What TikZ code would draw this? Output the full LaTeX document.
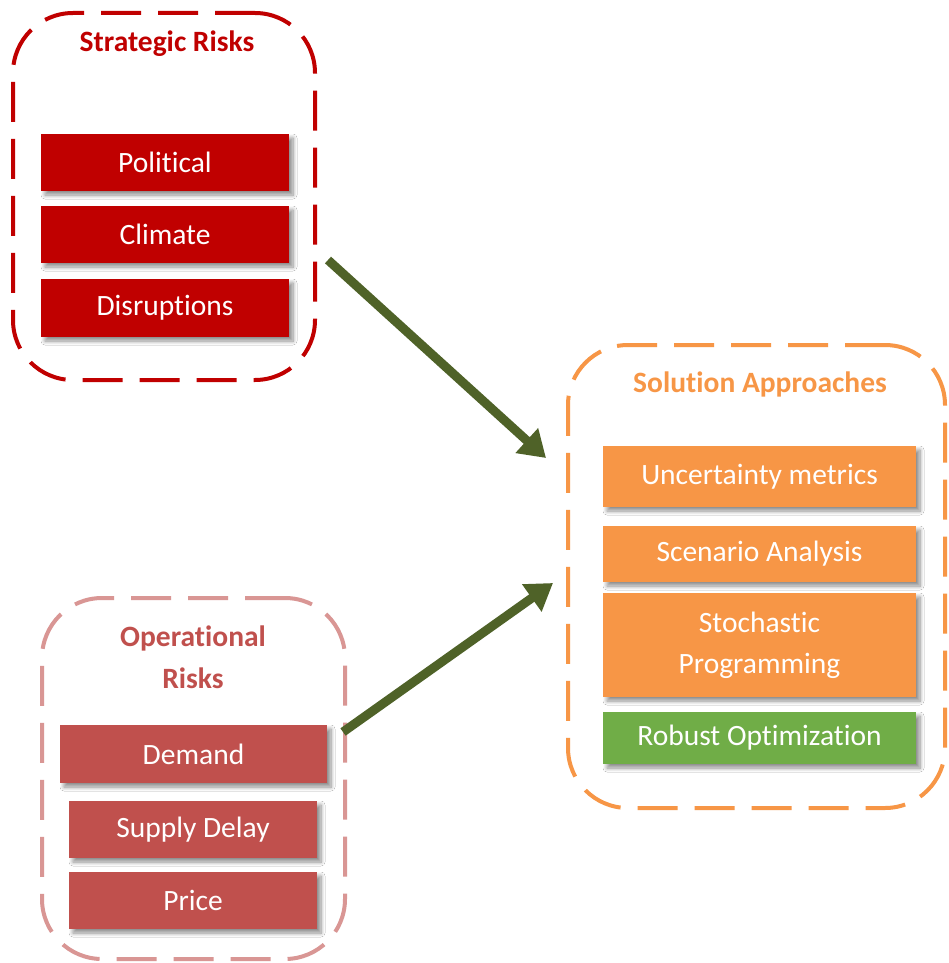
\documentclass[tikz,border=0pt]{standalone}
\usepackage{fontspec}
\setmainfont{Carlito}[Ligatures=NoCommon]
\usetikzlibrary{arrows.meta,shadows.blur}
\definecolor{strat}{HTML}{C00000}
\definecolor{oper}{HTML}{C0504D}
\definecolor{operdash}{HTML}{D99694}
\definecolor{sol}{HTML}{F79646}
\definecolor{robust}{HTML}{70AD47}
\definecolor{arrowc}{HTML}{4F6228}
\tikzset{
  container/.style={draw, line width=4pt, dash pattern=on 40pt off 17pt, rounded corners=60pt, inner sep=0pt},
  itembox/.style={rectangle, inner sep=0pt, text=white, font=\fontsize{29.5}{41}\selectfont, align=center,
    blur shadow={shadow xshift=4pt, shadow yshift=-4pt, shadow blur steps=8, shadow opacity=45, shadow blur radius=4pt}},
  titletext/.style={font=\bfseries\fontsize{29.5}{42}\selectfont, align=center, inner sep=0pt},
  flowarrow/.style={draw=arrowc, line width=9pt, -{Triangle[length=26pt,width=32pt]}}
}
\begin{document}
\begin{tikzpicture}[x=1pt,y=-1pt]
\useasboundingbox[fill=white] (0,0) rectangle (948,963);
% containers
\node[container, draw=strat, minimum width=302pt, minimum height=367pt] (strategic) at (164,196.5) {};
\node[container, draw=operdash, minimum width=303pt, minimum height=361pt] (operational) at (193.5,778.5) {};
\node[container, draw=sol, minimum width=377pt, minimum height=463pt] (solution) at (756.5,576.5) {};
% titles
\node[titletext, text=strat] (strattitle) at (167,44) {Strategic Risks};
\node[titletext, text=oper] (opertitle) at (193,657) {Operational\\Risks};
\node[titletext, text=sol] (soltitle) at (760,384) {Solution Approaches};
% strategic items
\node[itembox, fill=strat, minimum width=248pt, minimum height=57pt] (political) at (165,162.5) {Political};
\node[itembox, fill=strat, minimum width=248pt, minimum height=57pt] (climate) at (165,234.5) {Climate};
\node[itembox, fill=strat, minimum width=248pt, minimum height=58pt] (disrupt) at (165,308) {Disruptions};
% operational items
\node[itembox, fill=oper, minimum width=267pt, minimum height=58pt] (demand) at (193.5,754) {Demand};
\node[itembox, fill=oper, minimum width=248pt, minimum height=57pt] (supply) at (193,829.5) {Supply Delay};
\node[itembox, fill=oper, minimum width=248pt, minimum height=57pt] (price) at (193,900.5) {Price};
% solution items
\node[itembox, fill=sol, minimum width=313pt, minimum height=61pt] (uncert) at (759.5,476.5) {Uncertainty metrics};
\node[itembox, fill=sol, minimum width=313pt, minimum height=56pt] (scenario) at (759.5,554) {Scenario Analysis};
\node[itembox, fill=sol, minimum width=313pt, minimum height=104pt] (stoch) at (759.5,645) {Stochastic\\Programming};
\node[itembox, fill=robust, minimum width=313pt, minimum height=52pt] (robustopt) at (759.5,738) {Robust Optimization};
% arrows
\coordinate (a1s) at (328,260);
\coordinate (a1e) at (546,458);
\coordinate (a2s) at (343,732);
\coordinate (a2e) at (553,583);
\draw[flowarrow] (a1s) -- (a1e);
\draw[flowarrow] (a2s) -- (a2e);
\end{tikzpicture}
\end{document}
